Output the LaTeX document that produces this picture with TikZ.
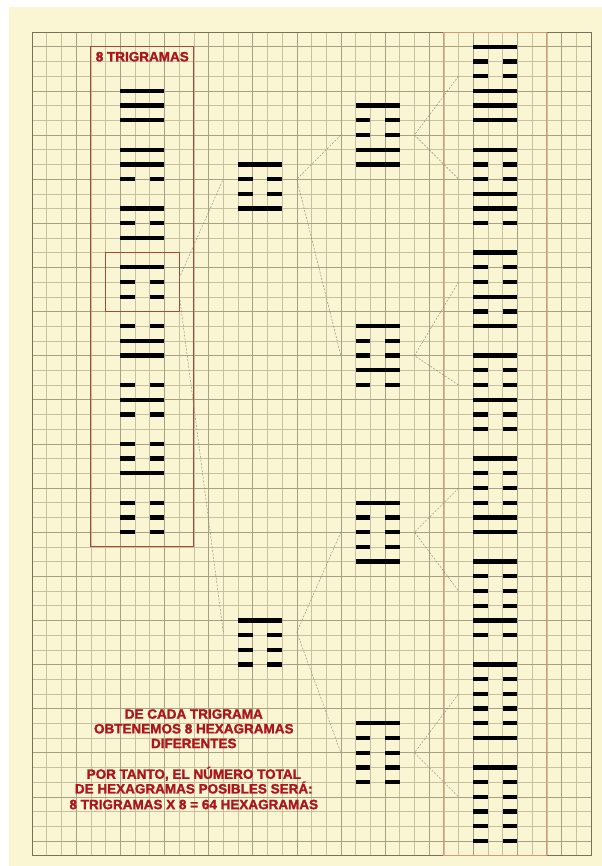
\documentclass[tikz,border=0pt]{standalone}
\usepackage{fontspec}
\setmainfont{Liberation Sans}
\newfontfamily\rotulofont{Liberation Sans Bold}[FakeBold=1.6]
\usepackage{tikz}
\usetikzlibrary{positioning}
\definecolor{crema}{HTML}{FAF6D4}
\definecolor{papelGris}{HTML}{C9C19E}
\definecolor{papelOscuro}{HTML}{A9A083}
\definecolor{bordeGris}{HTML}{7A7258}
\definecolor{rojoTexto}{HTML}{AE141B}
\definecolor{marcoRojo}{HTML}{A54A36}
\definecolor{marcoClaro}{HTML}{D39A76}

% one figure: left x, top y, lines (1 = whole, 0 = broken)
\newcommand{\gua}[3]{%
  \foreach \t [count=\i from 0] in #3 {
    \ifnum\t=1
      \draw[yang] (#1,#2+\i) -- ++(3,0);
    \else
      \draw[yang] (#1,#2+\i) -- ++(1,0) (#1+2,#2+\i) -- ++(1,0);
    \fi
  }%
}

\begin{document}
\begin{tikzpicture}[
    x=14.7105pt, y=-14.7105pt,
    rejilla/.style={papelGris, line width=0.5pt},
    rejillaFuerte/.style={papelOscuro, line width=0.5pt},
    yang/.style={black, line width=4.3pt},
    marco/.style={marcoRojo, line width=0.8pt},
    enlace/.style={gray, line width=0.4pt, dash pattern=on 2pt off 1.5pt},
    rotulo/.style={font=\fontsize{13.5}{14.7}\rotulofont, text=rojoTexto, inner sep=0pt}
]
% paper
\fill[white] (-2.175,-2.175) rectangle (38.75,56.7);
\fill[crema] (-1.56,-1.70) rectangle (38.75,56.7);
\useasboundingbox (-2.175,-2.175) rectangle (38.75,56.7);

% grid, a darker line every third one
\foreach \i in {0,...,38} \draw[rejilla] (\i,0) -- (\i,56);
\foreach \j in {0,...,56} \draw[rejilla] (0,\j) -- (38,\j);
\foreach \i in {0,3,...,36} \draw[rejillaFuerte] (\i,0) -- (\i,56);
\foreach \j in {1,4,...,55} \draw[rejillaFuerte] (0,\j) -- (38,\j);
\draw[bordeGris, line width=0.7pt] (0,0) rectangle (38,56);

% frames
\draw[marco] (4,1) rectangle (11,35);
\draw[marco] (5,15) rectangle (10,19);
\draw[marcoClaro, line width=0.9pt] (28,0) rectangle (35,56);

\node[rotulo] (titulo) at (7.5,1.68) {8 TRIGRAMAS};

% the 8 trigrams
\foreach \l [count=\k from 0] in {{1,1,1},{1,1,0},{1,0,1},{1,0,0},{0,1,1},{0,1,0},{0,0,1},{0,0,0}}
  \gua{6}{4+4*\k}{\l};

% four lines
\gua{14}{9}{{1,0,0,1}}
\gua{14}{40}{{1,0,0,0}}

% five lines
\gua{22}{5}{{1,0,0,1,1}}
\gua{22}{20}{{1,0,0,1,0}}
\gua{22}{32}{{1,0,0,0,1}}
\gua{22}{47}{{1,0,0,0,0}}

% the 8 hexagrams
\foreach \l [count=\k from 0] in {{1,0,0,1,1,1},{1,0,0,1,1,0},{1,0,0,1,0,1},{1,0,0,1,0,0},{1,0,0,0,1,1},{1,0,0,0,1,0},{1,0,0,0,0,1},{1,0,0,0,0,0}}
  \gua{30}{1+7*\k}{\l};

% connection points
\coordinate (sel-a) at (10,16.75);
\coordinate (sel-b) at (10,17.75);
\coordinate (t1-in) at (13,10);
\coordinate (t1-out) at (18,10);
\coordinate (t2-in) at (13,40.8);
\coordinate (t2-out) at (18,40.8);
\foreach \k/\y in {1/7,2/22,3/34,4/49} {
  \coordinate (p\k-in) at (21,\y);
  \coordinate (p\k-out) at (26,\y);
}
\foreach \k in {1,...,8} \coordinate (h\k) at (29,{3+7*(\k-1)});

\draw[enlace] (sel-a) -- (t1-in);
\draw[enlace] (sel-b) -- (t2-in);
\draw[enlace] (p1-in) -- (t1-out) -- (p2-in);
\draw[enlace] (p3-in) -- (t2-out) -- (p4-in);
\foreach \k/\a/\b in {1/1/2,2/3/4,3/5/6,4/7/8}
  \draw[enlace] (h\a) -- (p\k-out) -- (h\b);

\node[rotulo, align=center, anchor=north] (nota) at (11,46.03)
  {DE CADA TRIGRAMA\\OBTENEMOS 8 HEXAGRAMAS\\DIFERENTES\\[16pt]POR TANTO, EL NÚMERO TOTAL\\DE HEXAGRAMAS POSIBLES SERÁ:\\[1pt]8 TRIGRAMAS X 8 = 64 HEXAGRAMAS};

\end{tikzpicture}
\end{document}
